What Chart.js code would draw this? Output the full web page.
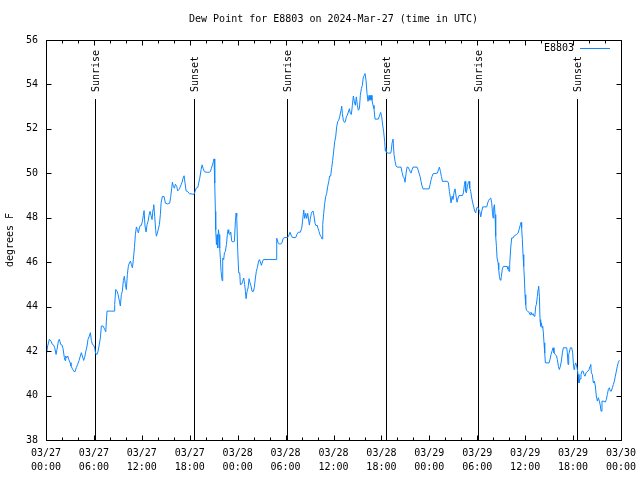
<!DOCTYPE html>
<html>
<head>
<meta charset="utf-8">
<title>Dew Point for E8803</title>
<script src="https://cdn.jsdelivr.net/npm/chart.js@4/dist/chart.umd.min.js"></script>
<style>
  html, body { margin: 0; padding: 0; background: #fff; }
  #wrap { width: 640px; height: 480px; }
</style>
</head>
<body>
<div id="wrap"><canvas id="dewChart" width="640" height="480"></canvas></div>
<script>
// Dew point for station E8803, 3 days starting 2024-03-27 00:00 UTC

const stationName = 'E8803';
const chartTitle = 'Dew Point for E8803 on 2024-Mar-27 (time in UTC)';
const yAxisTitle = 'degrees F';

// hours since 03/27 00:00 UTC
const hours = [
  0.05, 0.21, 0.42, 0.63, 0.80, 0.96, 1.09, 1.26, 1.38, 1.55, 1.67, 1.84, 2.01, 2.13, 2.30, 2.38, 2.47, 2.59, 2.72, 2.84,
  3.01, 3.13, 3.34, 3.51, 3.64, 3.80, 3.97, 4.14, 4.30, 4.43, 4.55, 4.72, 4.85, 5.01, 5.14, 5.26, 5.43, 5.56, 5.68, 5.81,
  5.97, 6.10, 6.22, 6.39, 6.52, 6.64, 6.81, 6.93, 7.14, 7.35, 7.48, 7.56, 7.64, 8.06, 8.52, 8.60, 8.73, 8.90, 9.02, 9.19,
  9.31, 9.44, 9.56, 9.69, 9.81, 9.94, 10.06, 10.19, 10.31, 10.44, 10.57, 10.69, 10.82, 10.94, 11.07, 11.19, 11.32, 11.44, 11.57, 11.69,
  11.82, 11.94, 12.07, 12.19, 12.28, 12.40, 12.53, 12.65, 12.78, 12.90, 13.03, 13.15, 13.28, 13.40, 13.49, 13.61, 13.74, 13.82, 13.95,
  14.20, 14.32, 14.41, 14.57, 14.78, 14.95, 15.24, 15.49, 15.62, 15.74, 15.83, 15.95, 16.08, 16.20, 16.37, 16.49, 16.62, 16.74, 16.91, 17.04,
  17.16, 17.29, 17.41, 17.54, 17.75, 17.96, 18.16, 18.37, 18.54, 18.66, 18.79, 19.00, 19.12, 19.25, 19.42, 19.54, 19.67, 19.83, 20.04, 20.25,
  20.46, 20.59, 20.71, 20.84, 20.96, 21.04, 21.13, 21.21, 21.25, 21.34, 21.42, 21.50, 21.59, 21.67, 21.75, 21.84, 21.92, 22.05, 22.13, 22.25,
  22.34, 22.46, 22.59, 22.71, 22.80, 22.88, 23.01, 23.13, 23.26, 23.42, 23.59, 23.72, 23.80, 23.88, 24.01, 24.13, 24.26, 24.34, 24.51, 24.63,
  24.76, 24.88, 24.97, 25.05, 25.18, 25.30, 25.43, 25.55, 25.68, 25.80, 25.97, 26.09, 26.22, 26.34, 26.47, 26.60, 26.72, 26.85, 26.97, 27.10,
  27.22, 27.97, 28.80,
  28.89, 29.09, 29.30, 29.51, 29.72, 29.93, 30.18, 30.35, 30.56, 30.68, 30.85, 31.27, 31.43, 31.60, 31.85, 32.02, 32.14, 32.27, 32.39, 32.52,
  32.64, 32.77, 32.89, 32.98, 33.10, 33.23, 33.31, 33.44, 33.56, 33.69, 33.81, 33.94, 34.06, 34.19, 34.31, 34.44, 34.56, 34.65, 34.77, 34.90,
  35.02, 35.15, 35.27, 35.40, 35.52, 35.65, 35.77, 35.90, 36.02, 36.15, 36.27, 36.40, 36.52, 36.65, 36.77, 36.90, 37.03, 37.11, 37.23, 37.36,
  37.48, 37.61, 37.73, 37.86, 37.99, 38.11, 38.24, 38.36, 38.49, 38.61, 38.74, 38.86, 38.99, 39.11, 39.24, 39.36, 39.49, 39.61, 39.74, 39.86,
  39.95, 40.07, 40.20, 40.32, 40.45, 40.57, 40.70, 40.82, 40.95, 41.07, 41.20, 41.62, 41.78, 41.91, 42.03, 42.16, 42.28, 42.41, 42.49,
  42.54, 42.62, 42.87, 43.17, 43.25, 43.33, 43.46, 43.58, 43.71, 43.83, 43.96, 44.46, 44.59, 44.71, 44.84, 44.96, 45.09, 45.21, 45.34, 45.46,
  45.59, 45.71, 45.84, 45.96, 46.46, 46.59, 46.71, 46.84, 46.96, 47.09, 47.21, 47.97, 48.09, 48.22, 48.34, 48.47, 49.01, 49.14, 49.26, 49.39,
  49.51, 49.64, 50.26, 50.39, 50.51, 50.64, 50.72, 50.85, 50.97, 51.10, 51.22, 51.35, 51.47, 51.60, 51.72, 52.14, 52.27, 52.39, 52.47, 52.56,
  52.64, 52.77, 52.89, 52.98, 53.06, 53.18, 53.31, 53.43, 53.56, 53.68, 53.81, 53.93, 54.06, 54.19, 54.31, 54.44, 54.56, 54.69, 55.19, 55.31,
  55.44, 55.56, 55.69, 55.81, 55.90, 55.98, 56.06, 56.15, 56.23, 56.31, 56.40, 56.48, 56.61, 56.69, 56.77, 56.86, 56.94,
  57.02, 57.14, 57.27, 57.73, 57.85, 57.98, 58.06, 58.19, 58.31, 58.48, 58.65, 58.90, 59.11, 59.23, 59.40, 59.48, 59.56, 59.65, 59.73, 59.82,
  59.90, 59.98, 60.07, 60.15, 60.32, 60.48, 60.61, 60.73, 60.86, 60.98, 61.11, 61.23, 61.32, 61.40, 61.53, 61.61, 61.69, 61.78, 61.86, 61.94,
  62.03, 62.11, 62.19, 62.28, 62.36, 62.45, 62.53, 62.99, 63.11, 63.24, 63.36, 63.49, 63.61, 63.74, 63.91, 64.03, 64.16, 64.28, 64.41, 64.53,
  64.66, 64.78, 65.20, 65.28, 65.37, 65.45, 65.53, 65.66, 65.83, 65.95, 66.03, 66.12, 66.20, 66.33, 66.45, 66.54, 66.62, 66.74, 66.87, 66.99,
  67.12, 67.25, 67.37, 67.50, 67.62, 67.75, 67.87, 68.00, 68.12, 68.21, 68.29, 68.41, 68.54, 68.66, 68.79, 68.91, 69.04, 69.17, 69.29, 69.42,
  69.50, 69.62, 69.75, 70.04, 70.17, 70.29, 70.42, 70.54, 70.67, 70.79, 70.92, 71.04, 71.17, 71.29, 71.42, 71.54, 71.67, 71.79
];

// dew point, degrees F (same order as hours)
const dewF = [
  41.85, 42.23, 42.53, 42.45, 42.30, 42.27, 42.15, 41.85, 42.08, 42.45, 42.53, 42.30, 42.27, 42.12, 41.70, 41.58, 41.78, 41.70, 41.78, 41.63,
  41.48, 41.33, 41.18, 41.08, 41.08, 41.26, 41.41, 41.58, 41.78, 41.93, 41.78, 41.58, 41.73, 42.03, 42.23, 42.53, 42.68, 42.83, 42.48, 42.30,
  42.27, 42.12, 41.88, 41.85, 42.00, 42.23, 42.60, 43.13, 43.13, 42.98, 42.87, 43.35, 43.80, 43.80, 43.80, 44.10, 44.77, 44.70, 44.55, 44.25,
  44.03, 44.55, 44.70, 45.18, 45.37, 45.00, 44.77, 45.45, 45.82, 45.97, 46.05, 45.90, 45.75, 46.12, 46.65, 47.24, 47.59, 47.47, 47.32, 47.54,
  47.66, 47.66, 47.84, 48.11, 48.32, 47.62, 47.36, 47.69, 47.84, 48.11, 48.29, 48.11, 47.92, 48.38, 48.59, 48.07, 47.42, 47.17, 47.32,
  47.69, 48.14, 48.66, 48.96, 48.96, 48.66, 48.62, 48.66, 48.96, 49.33, 49.60, 49.41, 49.33, 49.51, 49.41, 49.21, 49.26, 49.33, 49.48, 49.60,
  49.78, 49.89, 49.56, 49.21, 49.18, 49.08, 49.08, 49.06, 49.06, 49.18, 49.33, 49.36, 49.56, 49.78, 50.16, 50.38, 50.23, 50.08, 50.05, 50.05,
  50.05, 50.08, 50.23, 50.38, 50.53, 50.65, 49.56, 48.29, 47.46, 46.79, 47.24, 46.64, 47.46, 47.24, 46.64, 46.12, 45.59, 45.17, 46.19, 46.12,
  46.42, 46.49, 46.79, 47.24, 47.46, 47.31, 47.24, 47.36, 46.94, 46.91, 46.94, 47.87, 48.21, 48.06, 46.49, 45.52, 45.52, 44.99, 45.02, 45.14,
  45.29, 44.99, 44.69, 44.36, 44.69, 44.84, 45.26, 45.07, 44.92, 44.69, 44.69, 44.87, 45.29, 45.59, 45.77, 46.01, 46.12, 46.01, 45.86, 46.01,
  46.12, 46.12, 46.12,
  47.08, 46.85, 46.81, 46.85, 47.08, 47.11, 47.11, 47.15, 47.35, 47.23, 47.11, 47.11, 47.26, 47.35, 47.35, 47.53, 47.90, 48.35, 47.97, 48.20,
  47.97, 48.20, 47.90, 47.67, 47.97, 48.20, 48.27, 48.30, 48.09, 47.75, 47.64, 47.67, 47.53, 47.38, 47.23, 47.15, 47.05, 47.70, 48.20, 48.65,
  48.95, 49.10, 49.40, 49.62, 49.88, 49.88, 50.25, 50.59, 51.00, 51.42, 51.64, 52.09, 52.32, 52.39, 52.54, 52.76, 53.02, 52.69, 52.39, 52.29,
  52.32, 52.54, 52.62, 52.76, 52.91, 52.69, 52.65, 53.06, 53.48, 53.21, 53.06, 53.44, 53.06, 52.84, 52.91, 53.51, 53.81, 53.96, 54.34, 54.41,
  54.49, 54.19, 53.59, 53.24, 53.51, 53.29, 53.51, 53.29, 53.06, 52.91, 52.44, 52.44, 52.62, 52.74, 52.54, 52.17, 51.87, 51.42, 51.00,
  51.14, 50.94, 50.91, 50.91, 51.06, 51.36, 51.54, 50.84, 50.54, 50.34, 50.28, 50.28, 50.04, 49.86, 49.79, 49.60, 50.01, 50.28, 50.28, 50.19,
  50.09, 50.01, 50.16, 50.28, 50.28, 50.16, 50.01, 49.86, 49.64, 49.42, 49.30, 49.30, 49.49, 49.71, 49.86, 49.98, 50.01, 50.16, 50.28, 50.09,
  49.86, 49.64, 49.64, 49.57, 49.19, 48.89, 48.67, 48.97, 48.82, 49.15, 49.30, 48.97, 48.70, 48.89, 49.00, 49.00, 49.12, 49.49, 49.64, 49.19,
  49.12, 49.42, 49.60, 49.64, 49.34, 49.19, 48.89, 48.67, 48.49, 48.29, 48.22, 48.44, 48.49, 48.37, 48.29, 48.04, 48.29, 48.49, 48.49, 48.67,
  48.79, 48.85, 48.89, 48.67, 48.25, 47.99, 48.44, 48.59, 48.14, 47.17, 46.72, 46.20, 45.97, 45.67, 45.37, 45.22, 45.19,
  45.36, 45.69, 45.81, 45.81, 45.69, 45.59, 45.89, 46.64, 47.09, 47.09, 47.19, 47.24, 47.31, 47.46, 47.69, 47.79, 47.54, 47.01, 46.34, 45.81,
  45.29, 44.54, 44.09, 43.84, 43.79, 43.75, 43.64, 43.75, 43.64, 43.69, 43.57, 43.64, 44.02, 44.09, 44.47, 44.77, 44.92, 44.47, 43.42, 43.12,
  43.27, 43.05, 43.12, 42.82, 42.37, 41.92, 41.47, 41.47, 41.62, 41.85, 42.00, 42.15, 41.92, 41.85, 41.80, 41.62, 41.32, 41.17, 41.32, 41.55,
  41.92, 42.15, 42.15, 41.92, 41.40, 41.85, 41.95, 42.15, 42.15, 41.92, 41.47, 41.17, 41.32, 41.47, 41.32, 41.17, 40.95, 40.57, 40.75, 40.95,
  41.10, 41.10, 40.95, 40.87, 41.02, 41.07, 41.10, 41.17, 41.32, 41.40, 41.02, 40.95, 40.57, 40.65, 40.43, 39.98, 39.75, 39.90, 39.75, 39.53,
  39.30, 39.75, 39.75, 39.71, 39.83, 40.05, 40.28, 40.35, 40.20, 40.20, 40.35, 40.50, 40.65, 40.87, 41.10, 41.32, 41.50, 41.59
];

// x axis: major tick every 6 hours, labels on two lines
const tickHours = [0, 6, 12, 18, 24, 30, 36, 42, 48, 54, 60, 66, 72];
const tickDates = ['03/27', '03/27', '03/27', '03/27', '03/28', '03/28', '03/28', '03/28', '03/29', '03/29', '03/29', '03/29', '03/30'];
const tickTimes = ['00:00', '06:00', '12:00', '18:00', '00:00', '06:00', '12:00', '18:00', '00:00', '06:00', '12:00', '18:00', '00:00'];

// sunrise / sunset markers (hours since 03/27 00:00 UTC)
const sunHours = [6.18, 18.53, 30.18, 42.55, 54.09, 66.49];
const sunLabels = ['Sunrise', 'Sunset', 'Sunrise', 'Sunset', 'Sunrise', 'Sunset'];

const yMin = 38;
const yMax = 56;
const yStep = 2;

const FONT = 'DejaVu Sans Mono';
const LINE_COLOR = '#0f87ff';

// gnuplot-like title, frame, inward ticks, sun markers and legend
const gnuplotDecor = {
    id: 'gnuplotDecor',
    beforeDatasetsDraw(chart) {
        const ctx = chart.ctx;
        const area = chart.chartArea;
        const xs = chart.scales.x;
        ctx.save();
        ctx.strokeStyle = '#000';
        ctx.fillStyle = '#000';
        ctx.lineWidth = 1;
        ctx.font = '10px "' + FONT + '"';

        // title centred over the plot area, like gnuplot does
        ctx.textAlign = 'center';
        ctx.textBaseline = 'middle';
        ctx.fillText(chartTitle, (area.left + area.right) / 2, area.top - 21);

        sunHours.forEach((h, i) => {
            const px = Math.round(xs.getPixelForValue(h)) + 0.5;
            ctx.beginPath();
            ctx.moveTo(px, area.top + 59);
            ctx.lineTo(px, area.bottom);
            ctx.stroke();
            ctx.save();
            ctx.translate(px + 1, area.top + 52);
            ctx.rotate(-Math.PI / 2);
            ctx.textAlign = 'left';
            ctx.textBaseline = 'middle';
            ctx.fillText(sunLabels[i], 0, 0);
            ctx.restore();
        });
        ctx.restore();
    },
    afterDraw(chart) {
        const ctx = chart.ctx;
        const area = chart.chartArea;
        const xs = chart.scales.x;
        const ys = chart.scales.y;
        ctx.save();
        ctx.strokeStyle = '#000';
        ctx.lineWidth = 1;

        // frame
        const l = Math.round(area.left) + 0.5;
        const r = Math.round(area.right) + 0.5;
        const t = Math.round(area.top) + 0.5;
        const b = Math.round(area.bottom) + 0.5;
        ctx.strokeRect(l, t, r - l, b - t);

        // x ticks every 2 hours, long ones every 6
        ctx.beginPath();
        for (let h = 0; h <= 72; h += 2) {
            const px = Math.round(xs.getPixelForValue(h)) + 0.5;
            const len = (h % 6 === 0) ? 5 : 3;
            ctx.moveTo(px, b);
            ctx.lineTo(px, b - len);
            ctx.moveTo(px, t);
            ctx.lineTo(px, t + len);
        }
        // y ticks
        for (let v = yMin; v <= yMax; v += yStep) {
            const py = Math.round(ys.getPixelForValue(v)) + 0.5;
            ctx.moveTo(l, py);
            ctx.lineTo(l + 5, py);
            ctx.moveTo(r, py);
            ctx.lineTo(r - 5, py);
        }
        ctx.stroke();

        // legend inside the plot, top right
        ctx.font = '10px "' + FONT + '"';
        ctx.fillStyle = '#000';
        ctx.textAlign = 'right';
        ctx.textBaseline = 'middle';
        const ly = Math.round(area.top + 8) + 0.5;
        ctx.fillText(chart.data.datasets[0].label, area.right - 47, ly);
        ctx.strokeStyle = LINE_COLOR;
        ctx.beginPath();
        ctx.moveTo(area.right - 41, ly);
        ctx.lineTo(area.right - 11, ly);
        ctx.stroke();
        ctx.restore();
    }
};

function initChart() {
    const canvas = document.getElementById('dewChart');
    if (!canvas) {
        console.error('canvas not found');
        return;
    }

    Chart.defaults.font.family = FONT;
    Chart.defaults.font.size = 10;
    Chart.defaults.color = '#000';

    const points = hours.map((h, i) => ({ x: h, y: dewF[i] }));

    new Chart(canvas.getContext('2d'), {
        type: 'line',
        data: {
            datasets: [{
                label: stationName,
                data: points,
                borderColor: LINE_COLOR,
                borderWidth: 1,
                pointRadius: 0,
                tension: 0,
                fill: false
            }]
        },
        options: {
            responsive: false,
            animation: false,
            layout: { padding: { top: 40, right: 0, bottom: 0, left: 0 } },
            scales: {
                x: {
                    type: 'linear',
                    min: 0,
                    max: 72,
                    afterFit: (scale) => {
                        // fixed gnuplot-like margins
                        scale.height = 40;
                        scale.paddingLeft = 0;
                        scale.paddingRight = 19;
                    },
                    afterBuildTicks: (scale) => {
                        scale.ticks = tickHours.map(v => ({ value: v }));
                    },
                    grid: { display: false, drawTicks: false },
                    border: { display: false },
                    ticks: {
                        autoSkip: false,
                        maxRotation: 0,
                        padding: 7,
                        font: { family: FONT, size: 10, lineHeight: 1.35 },
                        callback: function(value) {
                            const i = tickHours.indexOf(value);
                            return i >= 0 ? [tickDates[i], tickTimes[i]] : '';
                        }
                    }
                },
                y: {
                    min: yMin,
                    max: yMax,
                    afterFit: (scale) => { scale.width = 46; },
                    grid: { display: false, drawTicks: false },
                    border: { display: false },
                    ticks: { stepSize: yStep, padding: 8, font: { family: FONT, size: 10 } },
                    title: {
                        display: true,
                        text: yAxisTitle,
                        padding: { top: 4, bottom: 0 },
                        font: { family: FONT, size: 10 }
                    }
                }
            },
            plugins: {
                legend: { display: false },
                tooltip: { enabled: false },
                title: { display: false }
            }
        },
        plugins: [gnuplotDecor]
    });
}

initChart();
</script>
</body>
</html>
